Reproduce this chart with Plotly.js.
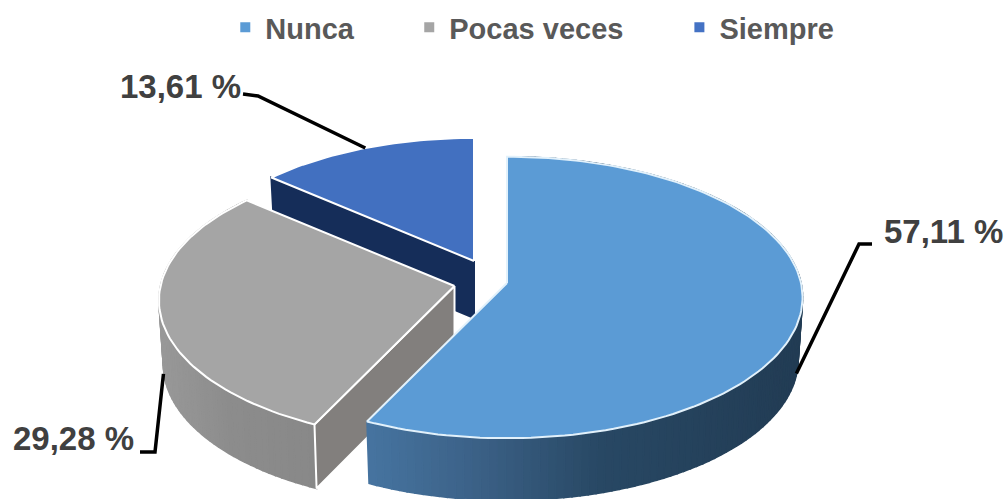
<!DOCTYPE html>
<html><head><meta charset="utf-8">
<script src="https://cdn.plot.ly/plotly-3.0.1.min.js"></script>
<style>html,body{margin:0;padding:0;background:#fff;overflow:hidden}</style>
</head><body><div id="chart" style="width:1008px;height:499px"></div>
<script>
const categories = ['Nunca', 'Pocas veces', 'Siempre'];
const values = [57.11, 29.28, 13.61];
const topColors = ['#5b9bd5', '#a5a5a5', '#4270c0'];
const legendColors = ['#5b9bd5', '#a5a5a5', '#4472c4'];

// view geometry (pixel-scaled axes)
const apexX = [507, 454.5, 474];
const apexY = [283, 286, 261];
const sliceScale = [1, 1, 0.975];
const depth = [62, 64, 57];
const RX = 294, RY = 139.3, PERSP = 0.103;

const FONT = '"Liberation Sans", Arial, sans-serif';
const total = values.reduce((a, b) => a + b, 0);
let acc = 0;
const starts = [], ends = [];
values.forEach(v => { starts.push(acc / total * 360); acc += v; ends.push(acc / total * 360); });

function pt(i, deg, dropped) {
  const t = deg * Math.PI / 180, c = Math.cos(t), s = Math.sin(t);
  const k = sliceScale[i] / (1 + PERSP * c);
  const kx = dropped ? 0.985 : 1;
  return [apexX[i] + RX * s * k * kx, apexY[i] - RY * c * k + (dropped ? depth[i] : 0)];
}
function poly(points, fill, lineColor, lineWidth) {
  return {
    x: points.map(p => p[0]).concat(points[0][0]),
    y: points.map(p => p[1]).concat(points[0][1]),
    mode: 'lines', fill: 'toself', fillcolor: fill,
    line: {color: lineColor, width: lineWidth},
    showlegend: false, hoverinfo: 'skip'
  };
}
function arc(i, a, b) {
  const out = [], n = Math.ceil((b - a) / 1.5);
  for (let j = 0; j <= n; j++) out.push(pt(i, a + (b - a) * j / n, false));
  return out;
}
function mix(stops, x) {
  let k = 0;
  while (k < stops.length - 2 && x > stops[k + 1][0]) k++;
  const [x0, c0] = stops[k], [x1, c1] = stops[k + 1];
  const f = Math.min(1, Math.max(0, (x - x0) / (x1 - x0)));
  return 'rgb(' + c0.map((v, m) => Math.round(v + (c1[m] - v) * f)).join(',') + ')';
}
function outerWall(i, a, b, stops) {
  const out = [], n = Math.ceil((b - a) / 1.5);
  for (let j = 0; j < n; j++) {
    const t0 = a + (b - a) * j / n, t1 = a + (b - a) * (j + 1) / n;
    const q = [pt(i, t0, false), pt(i, t1, false), pt(i, t1, true), pt(i, t0, true)];
    const col = mix(stops, (q[0][0] + q[1][0]) / 2);
    out.push(poly(q, col, col, 1.6));
  }
  return out;
}
function cutWall(i, deg, fill, lineColor) {
  const p = pt(i, deg, false), q = pt(i, deg, true);
  const a = [apexX[i], apexY[i]], b = [apexX[i], apexY[i] + depth[i]];
  return poly([a, p, q, b], fill, lineColor, 2);
}
function topFace(i, lineColor) {
  return poly([[apexX[i], apexY[i]]].concat(arc(i, starts[i], ends[i])), topColors[i], lineColor, 2);
}

const traces = [];
// Siempre
traces.push(cutWall(2, ends[1], '#152d59', '#152d59'));
traces.push(topFace(2, '#ffffff'));
// Pocas veces
traces.push(...outerWall(1, starts[1], ends[1], [[160, [152,152,152]], [230, [140,140,140]], [320, [136,136,136]]]));
traces.push(cutWall(1, starts[1], '#827f7d', '#ffffff'));
traces.push(topFace(1, '#ffffff'));
// Nunca
traces.push(...outerWall(0, starts[0], ends[0], [[367, [70,116,160]], [470, [60,98,136]], [600, [40,72,100]], [800, [34,60,84]]]));
traces.push(topFace(0, '#e2f1fb'));

// leader lines, anchored at each slice's mid-angle
const mid = i => (starts[i] + ends[i]) / 2;
const a0 = pt(0, mid(0), false), a1 = pt(1, mid(1), false), a2 = pt(2, mid(2), false);
const leaders = [
  [[a0[0] - 4, a0[1] + 59], [859, 244], [872, 244]],
  [[a1[0] + 3, a1[1] + 59], [155, 452], [140, 452]],
  [a2, [258, 96], [243, 94]]
];
leaders.forEach(l => traces.push({
  x: l.map(p => p[0]), y: l.map(p => p[1]), mode: 'lines',
  line: {color: '#000000', width: 3.5}, showlegend: false, hoverinfo: 'skip'
}));

// legend entries
categories.forEach((c, i) => traces.push({
  x: [null], y: [null], mode: 'markers', name: c,
  marker: {symbol: 'square', size: 10, color: legendColors[i]},
  legend: i === 0 ? 'legend' : 'legend' + (i + 1), hoverinfo: 'skip'
}));

const labelText = values.map(v => v.toFixed(2).replace('.', ',') + ' %');
const labelX = [943, 180.5, 73];
const labelY = [231, 86, 438];
const labelOrder = [0, 2, 1];
const annotations = labelOrder.map((i, n) => ({
  x: labelX[n], y: labelY[n], xref: 'x', yref: 'y', text: '<b>' + labelText[i] + '</b>',
  showarrow: false, xanchor: 'center', yanchor: 'middle',
  font: {family: FONT, size: 33, color: '#404040'}
}));

const legendBase = {
  orientation: 'h', xanchor: 'left', yanchor: 'middle', y: 0.945, bgcolor: 'rgba(0,0,0,0)',
  itemclick: false, itemdoubleclick: false, itemwidth: 30,
  font: {family: FONT, size: 29, color: '#595959', weight: 700}
};
const layout = {
  width: 1008, height: 499, margin: {l: 0, r: 0, t: 0, b: 0},
  paper_bgcolor: '#ffffff', plot_bgcolor: '#ffffff',
  xaxis: {range: [0, 1008], visible: false, fixedrange: true},
  yaxis: {range: [499, 0], visible: false, fixedrange: true},
  showlegend: true, hovermode: false, annotations,
  legend: Object.assign({x: 0.2235}, legendBase),
  legend2: Object.assign({x: 0.406}, legendBase),
  legend3: Object.assign({x: 0.674}, legendBase)
};
Plotly.newPlot('chart', traces, layout, {displayModeBar: false, staticPlot: true});
</script></body></html>
